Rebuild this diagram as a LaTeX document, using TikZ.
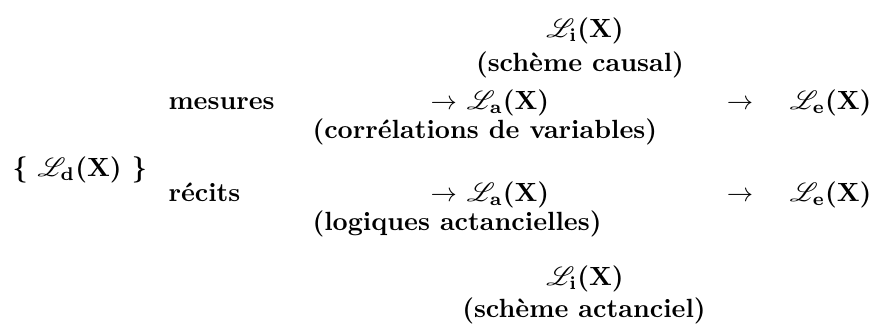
\documentclass[tikz,border=0pt]{standalone}
\usepackage{amsmath}
\usepackage{mathrsfs}
\usepackage{tikz}
\usetikzlibrary{positioning}

\newcommand{\Lsys}[1]{$\mathscr{L}_{\mathbf{#1}}(\mathbf{X})$}
\newcommand{\thinarr}{{\unboldmath$\rightarrow$}}

\begin{document}
\begin{tikzpicture}[
  x=0.38pt, y=-0.38pt,
  lbl/.style={font=\bfseries\boldmath, inner sep=0pt},
  caption/.style={font=\bfseries, inner sep=0pt, align=center}
]
  \useasboundingbox (0,0) rectangle (874,329);

  % source on the left
  \node[lbl, anchor=base west] (ld) at (12,177) {\{ \Lsys{d} \}};

  % upper branch
  \node[lbl, anchor=base west] (mes)  at (168,110)  {mesures};
  \node[lbl, anchor=base west] (laA)  at (430,110)  {\thinarr\ \Lsys{a}};
  \node[caption, anchor=base west] (corr) at (312,139) {(corrélations de variables)};
  \node[lbl, anchor=base] (arrA) at (740,110) {\thinarr};
  \node[lbl, anchor=base east] (leA)  at (872,110)  {\Lsys{e}};
  \node[lbl, anchor=base] (liA) at (585,38) {\Lsys{i}};
  \node[caption, anchor=base] (causal) at (580,72) {(schème causal)};

  % lower branch
  \node[lbl, anchor=base west] (rec)  at (168,202) {récits};
  \node[lbl, anchor=base west] (laB)  at (430,202) {\thinarr\ \Lsys{a}};
  \node[caption, anchor=base west] (logi) at (312,231) {(logiques actancielles)};
  \node[lbl, anchor=base] (arrB) at (740,202) {\thinarr};
  \node[lbl, anchor=base east] (leB)  at (872,202)  {\Lsys{e}};
  \node[lbl, anchor=base] (liB) at (585,286) {\Lsys{i}};
  \node[caption, anchor=base] (actan) at (584,318) {(schème actanciel)};
\end{tikzpicture}
\end{document}
